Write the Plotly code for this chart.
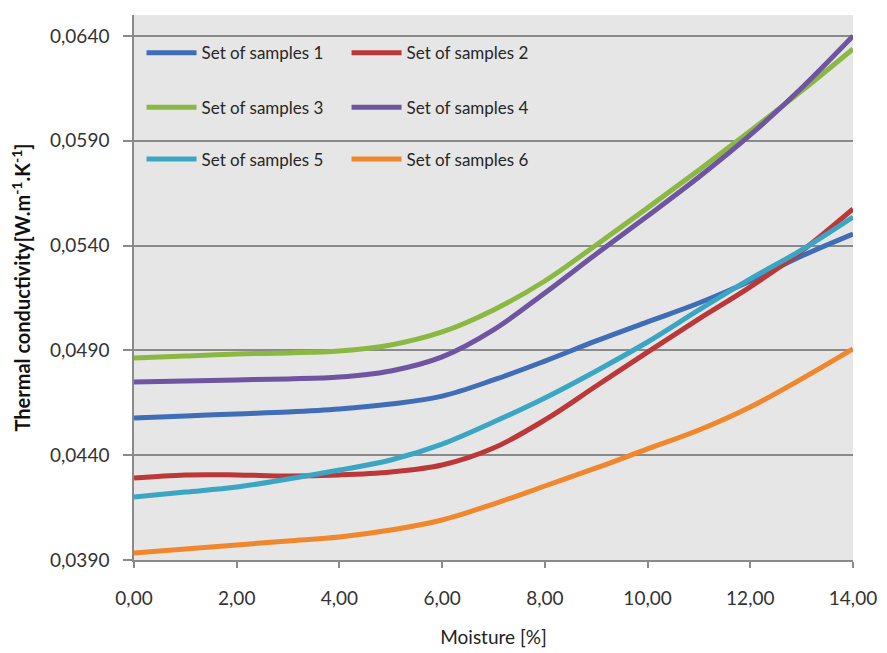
import plotly.graph_objects as go

# ---- data ----
moisture = [0, 1, 2, 3, 4, 5, 6, 7, 8, 9, 10, 11, 12, 13, 14]

samples_1 = [0.04577, 0.04587, 0.04597, 0.04606, 0.04620, 0.04644, 0.04682, 0.04759,
             0.04849, 0.04945, 0.05036, 0.05126, 0.05231, 0.05350, 0.05455]
samples_2 = [0.04291, 0.04306, 0.04306, 0.04301, 0.04306, 0.04320, 0.04353, 0.04434,
             0.04568, 0.04730, 0.04892, 0.05050, 0.05203, 0.05374, 0.05575]
samples_3 = [0.04864, 0.04873, 0.04883, 0.04888, 0.04897, 0.04926, 0.04988, 0.05093,
             0.05231, 0.05403, 0.05580, 0.05761, 0.05947, 0.06138, 0.06338]
samples_4 = [0.04749, 0.04754, 0.04759, 0.04764, 0.04773, 0.04802, 0.04869, 0.04998,
             0.05174, 0.05360, 0.05541, 0.05727, 0.05928, 0.06152, 0.06400]
samples_5 = [0.04201, 0.04224, 0.04248, 0.04286, 0.04329, 0.04377, 0.04453, 0.04558,
             0.04673, 0.04802, 0.04940, 0.05093, 0.05241, 0.05379, 0.05536]
samples_6 = [0.03933, 0.03952, 0.03972, 0.03991, 0.04010, 0.04043, 0.04091, 0.04167,
             0.04253, 0.04339, 0.04430, 0.04520, 0.04630, 0.04764, 0.04907]

series_names = ["Set of samples 1", "Set of samples 2", "Set of samples 3",
                "Set of samples 4", "Set of samples 5", "Set of samples 6"]
series_values = [samples_1, samples_2, samples_3, samples_4, samples_5, samples_6]

y_ticks = [0.039, 0.044, 0.049, 0.054, 0.059, 0.064]
x_ticks = [0, 2, 4, 6, 8, 10, 12, 14]

# ---- styling ----
colors = ["#3F6DB6", "#BC3838", "#8BB842", "#6F54A1", "#3BA6C3", "#F0872C"]
legend_ids = ["legend", "legend", "legend2", "legend2", "legend3", "legend3"]
FONT = "Lato"

fig = go.Figure()
for name, vals, col, lg in zip(series_names, series_values, colors, legend_ids):
    fig.add_trace(go.Scatter(
        x=moisture, y=vals, mode="lines", name=name, legend=lg,
        line=dict(color=col, width=5, shape="spline", smoothing=1.0),
    ))

def legend_box(ypos):
    return dict(
        orientation="h", x=0.0105, xanchor="left", y=ypos, yanchor="middle",
        xref="paper", yref="paper",
        entrywidth=140, entrywidthmode="pixels", itemwidth=50,
        bgcolor="rgba(0,0,0,0)", borderwidth=0,
        font=dict(family=FONT, size=17, color="#262626"),
        tracegroupgap=0,
    )

# the page body adds an 8px offset, so the figure is 8px smaller than the window
fig.update_layout(
    width=879, height=645,
    margin=dict(l=126, r=34, t=7, b=93, autoexpand=False),
    paper_bgcolor="white",
    plot_bgcolor="#E6E6E6",
    separators=",.",
    font=dict(family=FONT, color="#333333"),
    legend=legend_box(0.930),
    legend2=legend_box(0.830),
    legend3=legend_box(0.735),
    showlegend=True,
)

fig.update_xaxes(
    range=[0, 14], tickvals=x_ticks, tickformat=".2f",
    automargin=False,
    showgrid=False, zeroline=False,
    showline=True, linecolor="#8A8A8A", linewidth=1.5,
    ticks="outside", ticklen=6, tickcolor="#8A8A8A", tickwidth=1.5,
    ticklabelstandoff=14,
    tickfont=dict(family=FONT, size=19, color="#333333"),
    title=dict(text="Moisture [%]", standoff=23,
               font=dict(family=FONT, size=19, color="#222222")),
)

fig.update_yaxes(
    range=[0.039, 0.065], tickvals=y_ticks, tickformat=".4f",
    automargin=False,
    showgrid=True, gridcolor="#8A8A8A", gridwidth=1.5,
    zeroline=False,
    showline=True, linecolor="#8A8A8A", linewidth=1.5,
    ticks="outside", ticklen=9, tickcolor="#8A8A8A", tickwidth=1.5,
    ticklabelstandoff=10,
    tickfont=dict(family=FONT, size=19, color="#333333"),
    title=dict(text="<b>Thermal conductivity[W.m<sup>-1</sup>.K<sup>-1</sup>]</b>",
               standoff=16,
               font=dict(family=FONT, size=20, color="#111111")),
)

fig.write_html("out.html")
